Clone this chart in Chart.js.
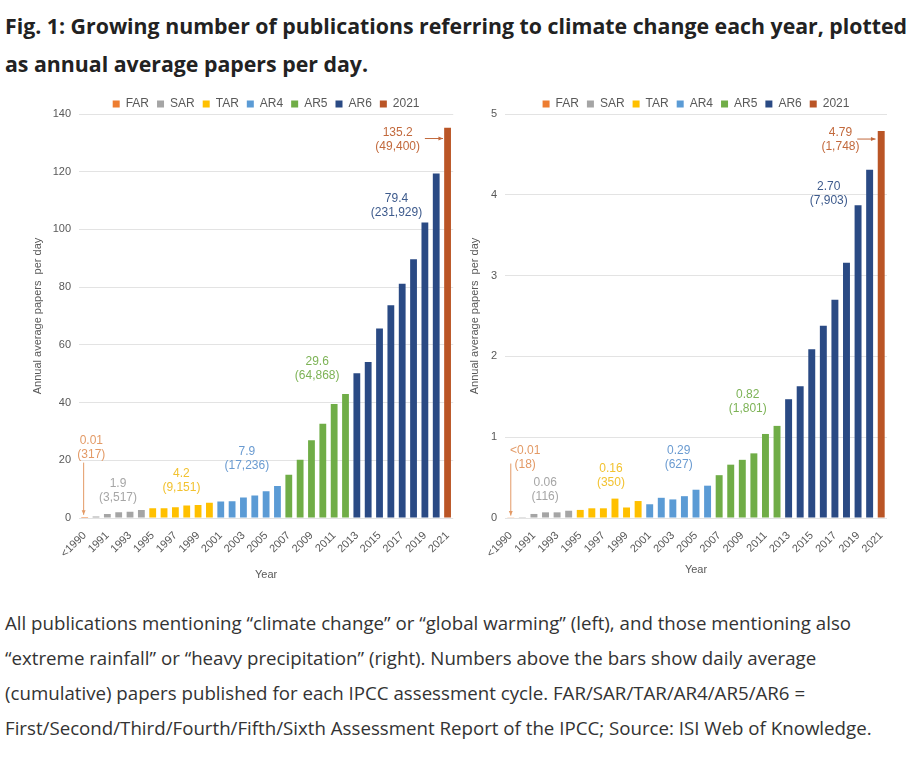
<!DOCTYPE html>
<html>
<head>
<meta charset="utf-8">
<script src="https://cdn.jsdelivr.net/npm/chart.js@4.4.1/dist/chart.umd.min.js"></script>
<style>
  body { margin: 0; background: #fff; width: 911px; height: 758px; position: relative; overflow: hidden; font-family: 'Open Sans', sans-serif; }
  .title { position: absolute; left: 5px; top: 7px; font-weight: 700; font-size: 21.3px; line-height: 38px; color: #222; white-space: nowrap; }
  .caption { position: absolute; left: 5px; top: 605px; font-size: 18.7px; line-height: 35px; color: #333; white-space: nowrap; }
  .box { position: absolute; top: 90px; }
</style>
</head>
<body>
<div class="title">Fig. 1: Growing number of publications referring to climate change each year, plotted<br>as annual average papers per day.</div>

<div class="box" style="left:0;width:460px;height:496px"><canvas id="leftChart"></canvas></div>
<div class="box" style="left:460px;width:451px;height:491px"><canvas id="rightChart"></canvas></div>

<div class="caption">All publications mentioning “climate change” or “global warming” (left), and those mentioning also<br>“extreme rainfall” or “heavy precipitation” (right). Numbers above the bars show daily average<br>(cumulative) papers published for each IPCC assessment cycle. FAR/SAR/TAR/AR4/AR5/AR6 =<br>First/Second/Third/Fourth/Fifth/Sixth Assessment Report of the IPCC; Source: ISI Web of Knowledge.</div>

<script>
// categories (x axis)
const years = ['<1990', '1990', '1991', '1992', '1993', '1994', '1995', '1996', '1997', '1998', '1999',
  '2000', '2001', '2002', '2003', '2004', '2005', '2006', '2007', '2008', '2009', '2010', '2011',
  '2012', '2013', '2014', '2015', '2016', '2017', '2018', '2019', '2020', '2021'];

// which assessment cycle each year belongs to
const cycleOfYear = ['FAR', 'SAR', 'SAR', 'SAR', 'SAR', 'SAR', 'TAR', 'TAR', 'TAR', 'TAR', 'TAR',
  'TAR', 'AR4', 'AR4', 'AR4', 'AR4', 'AR4', 'AR4', 'AR5', 'AR5', 'AR5', 'AR5', 'AR5',
  'AR5', 'AR6', 'AR6', 'AR6', 'AR6', 'AR6', 'AR6', 'AR6', 'AR6', '2021'];

const cycles = ['FAR', 'SAR', 'TAR', 'AR4', 'AR5', 'AR6', '2021'];

// papers per day, "climate change" / "global warming"
const climatePapers = [0.01, 0.5, 1.4, 2.0, 2.2, 2.8, 3.4, 3.4, 3.7, 4.3, 4.5,
  5.3, 5.7, 5.8, 7.1, 7.8, 9.3, 11.1, 15.0, 20.2, 26.9, 32.7, 39.5,
  43.0, 50.2, 54.1, 65.7, 73.7, 81.2, 89.7, 102.4, 119.4, 135.2];

// papers per day, also "extreme rainfall" / "heavy precipitation"
const rainfallPapers = [0.004, 0.01, 0.05, 0.07, 0.07, 0.09, 0.10, 0.12, 0.12, 0.24, 0.13,
  0.21, 0.17, 0.25, 0.23, 0.27, 0.35, 0.40, 0.53, 0.66, 0.72, 0.80, 1.04,
  1.14, 1.47, 1.63, 2.09, 2.38, 2.70, 3.16, 3.87, 4.31, 4.79];

// cycle averages (cumulative counts) written above the bars
const climateNotes = [
  { cycle: 'FAR', x: 0.59, y: 26.9, text: ['0.01', '(317)'] },
  { cycle: 'SAR', x: 2.94, y: 11.8, text: ['1.9', '(3,517)'] },
  { cycle: 'TAR', x: 8.53, y: 15.5, text: ['4.2', '(9,151)'] },
  { cycle: 'AR4', x: 14.3, y: 23.1, text: ['7.9', '(17,236)'] },
  { cycle: 'AR5', x: 20.5, y: 54.1, text: ['29.6', '(64,868)'] },
  { cycle: 'AR6', x: 27.5, y: 110.6, text: ['79.4', '(231,929)'] },
  { cycle: '2021', x: 27.6, y: 133.6, text: ['135.2', '(49,400)'] }
];
const climateArrows = [
  { cycle: 'FAR', x0: -0.09, y0: 19.2, x1: -0.09, y1: 1.1 },
  { cycle: '2021', x0: 30.0, y0: 131.5, x1: 31.6, y1: 131.5 }
];

const rainfallNotes = [
  { cycle: 'FAR', x: 1.24, y: 0.835, text: ['<0.01', '(18)'] },
  { cycle: 'SAR', x: 2.97, y: 0.44, text: ['0.06', '(116)'] },
  { cycle: 'TAR', x: 8.65, y: 0.615, text: ['0.16', '(350)'] },
  { cycle: 'AR4', x: 14.5, y: 0.835, text: ['0.29', '(627)'] },
  { cycle: 'AR5', x: 20.47, y: 1.526, text: ['0.82', '(1,801)'] },
  { cycle: 'AR6', x: 27.47, y: 4.10, text: ['2.70', '(7,903)'] },
  { cycle: '2021', x: 28.48, y: 4.764, text: ['4.79', '(1,748)'] }
];
const rainfallArrows = [
  { cycle: 'FAR', x0: 0, y0: 0.674, x1: 0, y1: 0.03 },
  { cycle: '2021', x0: 29.93, y0: 4.69, x1: 31.51, y1: 4.69 }
];

const barColors = { FAR: '#ED7D31', SAR: '#A5A5A5', TAR: '#FFC000', AR4: '#5B9BD5', AR5: '#70AD47', AR6: '#2A4A84', '2021': '#BA5526' };
const noteColors = { FAR: '#E39A66', SAR: '#A6A6A6', TAR: '#F2C230', AR4: '#6A9BD1', AR5: '#7DB356', AR6: '#3D5A8C', '2021': '#C2693C' };

Chart.defaults.font.family = "'Liberation Sans', Arial, sans-serif";
Chart.defaults.color = '#595959';

// draws the cycle labels and arrows on top of the bars
const notesPlugin = {
  id: 'notes',
  afterDatasetsDraw(chart, args, opts) {
    const ctx = chart.ctx;
    const xs = chart.scales.x, ys = chart.scales.y;
    ctx.save();
    ctx.font = "12px 'Liberation Sans', Arial, sans-serif";
    ctx.textAlign = 'center';
    ctx.textBaseline = 'middle';
    opts.notes.forEach(n => {
      ctx.fillStyle = noteColors[n.cycle];
      const px = xs.getPixelForValue(n.x);
      const py = ys.getPixelForValue(n.y);
      n.text.forEach((t, i) => ctx.fillText(t, px, py + i * 14));
    });
    opts.arrows.forEach(a => {
      const x0 = xs.getPixelForValue(a.x0), y0 = ys.getPixelForValue(a.y0);
      const x1 = xs.getPixelForValue(a.x1), y1 = ys.getPixelForValue(a.y1);
      ctx.strokeStyle = noteColors[a.cycle];
      ctx.fillStyle = noteColors[a.cycle];
      ctx.lineWidth = 1;
      ctx.beginPath();
      ctx.moveTo(x0, y0);
      ctx.lineTo(x1, y1);
      ctx.stroke();
      const ang = Math.atan2(y1 - y0, x1 - x0);
      ctx.beginPath();
      ctx.moveTo(x1, y1);
      ctx.lineTo(x1 - 5 * Math.cos(ang - 0.4), y1 - 5 * Math.sin(ang - 0.4));
      ctx.lineTo(x1 - 5 * Math.cos(ang + 0.4), y1 - 5 * Math.sin(ang + 0.4));
      ctx.closePath();
      ctx.fill();
    });
    ctx.restore();
  }
};

// keep the legend strip a fixed height so the plot starts where it should
const legendHeightPlugin = {
  id: 'legendHeight',
  beforeLayout(chart, args, opts) {
    const lg = chart.legend;
    if (!lg || lg._fixedFit) return;
    const fit = lg.fit.bind(lg);
    lg.fit = function () { fit(); this.height = opts.height; };
    lg._fixedFit = true;
  }
};

function makeChart(id, values, yMax, yStep, notes, arrows, geom) {
  const datasets = cycles.map(c => ({
    label: c,
    data: values.map((v, i) => cycleOfYear[i] === c ? v : null),
    backgroundColor: barColors[c],
    grouped: false,
    barPercentage: 0.6,
    categoryPercentage: 1
  }));

  return new Chart(document.getElementById(id), {
    type: 'bar',
    data: { labels: years, datasets: datasets },
    plugins: [notesPlugin, legendHeightPlugin],
    options: {
      responsive: true,
      maintainAspectRatio: false,
      animation: false,
      layout: { padding: { left: geom.padLeft, right: geom.padRight, top: 0, bottom: 0 } },
      plugins: {
        legend: {
          position: 'top',
          fullSize: false,
          labels: { boxWidth: 7, boxHeight: 7, padding: 8, font: { size: 12 }, color: '#595959' }
        },
        legendHeight: { height: 24 },
        tooltip: { enabled: false },
        notes: { notes: notes, arrows: arrows }
      },
      scales: {
        x: {
          grid: { display: false },
          border: { display: false },
          ticks: {
            autoSkip: false,
            minRotation: 45,
            maxRotation: 45,
            font: { size: 11 },
            color: '#595959',
            callback: (v, i) => i % 2 === 0 ? years[i] : ''
          },
          title: { display: true, text: 'Year', font: { size: 11 }, color: '#595959' },
          afterFit: s => { s.height = geom.xHeight; }
        },
        y: {
          min: 0,
          max: yMax,
          grid: { color: '#E3E3E3', drawTicks: false },
          border: { display: false },
          ticks: { stepSize: yStep, padding: 8, font: { size: 11 }, color: '#595959' },
          title: { display: true, text: 'Annual average papers  per day', font: { size: 11 }, color: '#595959' },
          afterFit: s => { s.width = geom.yWidth; }
        }
      }
    }
  });
}

makeChart('leftChart', climatePapers, 140, 20, climateNotes, climateArrows,
  { padLeft: 27, padRight: 6, yWidth: 52, xHeight: 68 });
makeChart('rightChart', rainfallPapers, 5, 1, rainfallNotes, rainfallArrows,
  { padLeft: 4, padRight: 24, yWidth: 41, xHeight: 63 });
</script>
</body>
</html>
